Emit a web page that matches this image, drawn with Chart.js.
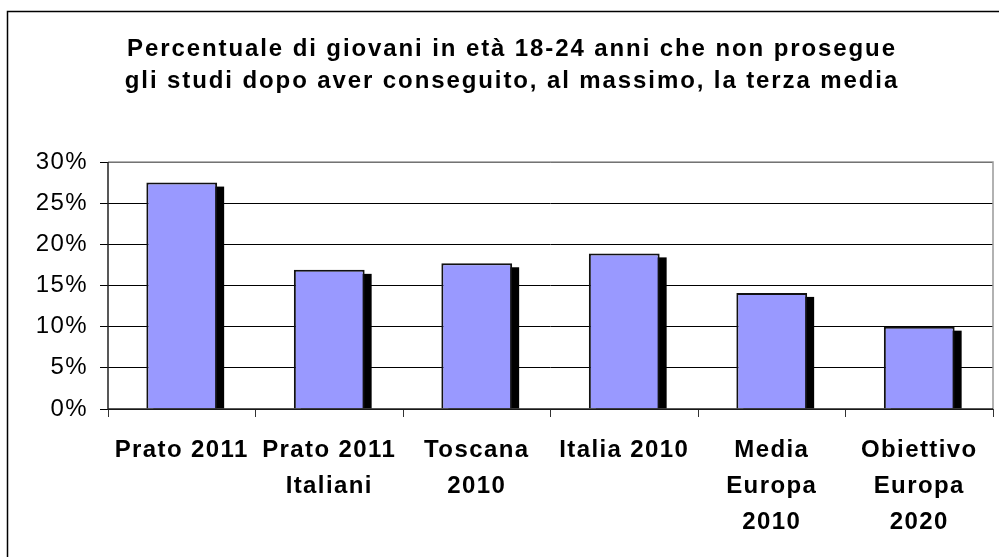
<!DOCTYPE html>
<html>
<head>
<meta charset="utf-8">
<script src="https://cdn.jsdelivr.net/npm/chart.js@4/dist/chart.umd.min.js"></script>
<style>
  html, body { margin: 0; padding: 0; background: #fff; }
  #wrap { width: 999px; height: 557px; position: relative; }
</style>
</head>
<body>
<div id="wrap"><canvas id="chart"></canvas></div>
<script>
// Data
const categories = [
  ['Prato 2011'],
  ['Prato 2011', 'Italiani'],
  ['Toscana', '2010'],
  ['Italia 2010'],
  ['Media', 'Europa', '2010'],
  ['Obiettivo', 'Europa', '2020']
];
const shares = [27.5, 16.9, 17.7, 18.9, 14.1, 10.0];
const titleLines = [
  'Percentuale di giovani in età 18-24 anni che non prosegue',
  'gli studi dopo aver conseguito, al massimo, la terza media'
];

const FONT = 'Arial, "Liberation Sans", sans-serif';

// frame around the whole chart, plot border and the two-line title
const framePlugin = {
  id: 'frame',
  beforeDraw(chart) {
    const c = chart.ctx;
    c.save();
    c.fillStyle = '#fff';
    c.fillRect(0, 0, chart.width, chart.height);
    c.strokeStyle = '#000';
    c.lineWidth = 1.5;
    c.strokeRect(7.5, 11.5, 1100, 700);
    c.restore();
    // spacing used by the axis labels
    c.letterSpacing = '1.4px';
  },
  afterDraw(chart) {
    const a = chart.chartArea;
    const c = chart.ctx;
    c.save();
    c.strokeStyle = '#999';
    c.lineWidth = 1.5;
    c.beginPath();
    c.moveTo(a.left, a.top);
    c.lineTo(a.right, a.top);
    c.lineTo(a.right, a.bottom);
    c.stroke();
    c.strokeStyle = '#222';
    c.beginPath();
    c.moveTo(a.left, a.top);
    c.lineTo(a.left, a.bottom);
    c.lineTo(a.right, a.bottom);
    c.stroke();

    // title
    c.letterSpacing = '1.9px';
    c.font = 'bold 24px ' + FONT;
    c.fillStyle = '#000';
    c.textAlign = 'center';
    c.textBaseline = 'alphabetic';
    titleLines.forEach((line, i) => c.fillText(line, 512, 56 + i * 32));
    c.restore();
  }
};

// black drop shadow behind each bar
const shadowPlugin = {
  id: 'barShadow',
  beforeDatasetsDraw(chart) {
    const c = chart.ctx;
    const a = chart.chartArea;
    c.save();
    c.beginPath();
    c.rect(a.left, a.top, a.right - a.left, a.bottom - a.top);
    c.clip();
    c.fillStyle = '#000';
    chart.getDatasetMeta(0).data.forEach(bar => {
      const p = bar.getProps(['x', 'y', 'base', 'width'], true);
      c.fillRect(p.x - p.width / 2 + 7, p.y + 4, p.width, p.base - p.y - 4);
    });
    c.restore();
  }
};

Chart.defaults.font.family = FONT;
Chart.defaults.color = '#000';

new Chart(document.getElementById('chart'), {
  type: 'bar',
  data: {
    labels: categories,
    datasets: [{
      data: shares,
      backgroundColor: '#9999ff',
      borderColor: '#111',
      borderWidth: 2,
      barPercentage: 0.48,
      categoryPercentage: 1
    }]
  },
  options: {
    responsive: true,
    maintainAspectRatio: false,
    animation: false,
    layout: { padding: { left: 0, right: 6, top: 162, bottom: 0 } },
    plugins: {
      legend: { display: false },
      tooltip: { enabled: false },
      title: { display: false }
    },
    scales: {
      x: {
        offset: true,
        grid: {
          offset: true,
          drawOnChartArea: false,
          drawTicks: true,
          tickLength: 8,
          color: '#333'
        },
        border: { display: false },
        ticks: {
          font: { size: 24, weight: 'bold', lineHeight: 1.5 },
          padding: 15,
          maxRotation: 0,
          autoSkip: false
        },
        afterFit(axis) { axis.height = 148; }
      },
      y: {
        min: 0,
        max: 30,
        grid: {
          color: '#000',
          lineWidth: 1,
          tickLength: 8
        },
        border: { display: false },
        ticks: {
          stepSize: 5,
          font: { size: 24 },
          padding: 12,
          callback: v => v + '%'
        },
        afterFit(axis) { axis.width = 108; }
      }
    }
  },
  plugins: [framePlugin, shadowPlugin]
});
</script>
</body>
</html>
